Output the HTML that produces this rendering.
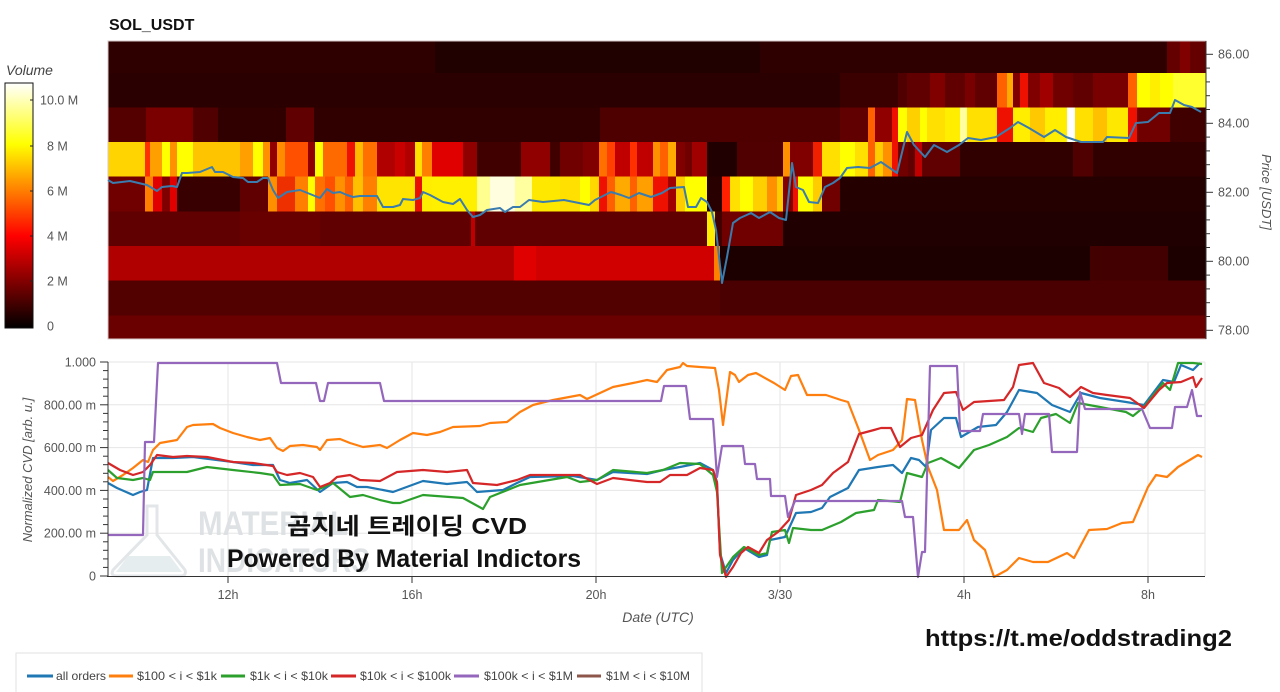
<!DOCTYPE html>
<html><head><meta charset="utf-8"><style>
html,body{margin:0;padding:0;background:#fff;width:1280px;height:692px;overflow:hidden}
svg{display:block}
text{font-family:"Liberation Sans","Noto Sans CJK KR",sans-serif}
</style></head><body>
<svg width="1280" height="692" viewBox="0 0 1280 692" xmlns="http://www.w3.org/2000/svg">
<defs>
<linearGradient id="hot" x1="0" y1="1" x2="0" y2="0">
<stop offset="0" stop-color="#000000"/><stop offset="0.375" stop-color="#ff0000"/><stop offset="0.75" stop-color="#ffff00"/><stop offset="1" stop-color="#ffffff"/>
</linearGradient>
</defs>
<rect width="1280" height="692" fill="#fff"/>
<text x="109" y="30" font-size="16" font-weight="bold" fill="#111">SOL_USDT</text>

<!-- colorbar -->
<text x="6" y="75" font-size="14" font-style="italic" fill="#444">Volume</text>
<rect x="5" y="83" width="28" height="245" fill="url(#hot)" stroke="#111" stroke-width="1"/>
<g stroke="#222" stroke-width="1"><line x1="30" y1="100" x2="33" y2="100"/><line x1="30" y1="146" x2="33" y2="146"/><line x1="30" y1="191" x2="33" y2="191"/><line x1="30" y1="236" x2="33" y2="236"/><line x1="30" y1="281" x2="33" y2="281"/></g>
<g font-size="12.5" fill="#555">
<text x="40" y="104.5">10.0 M</text><text x="47" y="150.5">8 M</text><text x="47" y="195.5">6 M</text><text x="47" y="240.5">4 M</text><text x="47" y="285.5">2 M</text><text x="47" y="330.5">0</text>
</g>

<!-- heatmap -->
<g shape-rendering="crispEdges">
<!-- R0 -->
<rect x="108" y="41" width="1098" height="32" fill="#2e0000"/>
<rect x="435" y="41" width="325" height="32" fill="#210000"/>
<rect x="1167" y="41" width="39" height="32" fill="#640000"/>
<rect x="1180" y="41" width="10" height="32" fill="#800000"/>
<!-- R1 -->
<g transform="translate(0,73)">
<rect x="108" width="1098" height="34.5" fill="#2a0000"/>
<rect x="840" width="58" height="34.5" fill="#3a0000"/>
<rect x="898" width="9" height="34.5" fill="#500000"/>
<rect x="907" width="90" height="34.5" fill="#600000"/>
<rect x="930" width="15" height="34.5" fill="#800000"/>
<rect x="965" width="10" height="34.5" fill="#780000"/>
<rect x="997" width="10" height="34.5" fill="#ff6000"/>
<rect x="1007" width="6" height="34.5" fill="#ffaa00"/>
<rect x="1013" width="7" height="34.5" fill="#800000"/>
<rect x="1020" width="8" height="34.5" fill="#ee1000"/>
<rect x="1028" width="12" height="34.5" fill="#800000"/>
<rect x="1040" width="13" height="34.5" fill="#a00000"/>
<rect x="1053" width="20" height="34.5" fill="#700000"/>
<rect x="1073" width="20" height="34.5" fill="#600000"/>
<rect x="1093" width="35" height="34.5" fill="#780000"/>
<rect x="1128" width="9" height="34.5" fill="#ff6000"/>
<rect x="1137" width="36" height="34.5" fill="#ffff00"/>
<rect x="1150" width="10" height="34.5" fill="#ffee00"/>
<rect x="1173" width="33" height="34.5" fill="#ffff30"/>
</g>
<!-- R2 -->
<g transform="translate(0,107.5)">
<rect x="108" width="1098" height="34.5" fill="#300000"/>
<rect x="108" width="38" height="34.5" fill="#550000"/>
<rect x="146" width="47" height="34.5" fill="#7a0000"/>
<rect x="193" width="25" height="34.5" fill="#500000"/>
<rect x="286" width="28" height="34.5" fill="#600000"/>
<rect x="600" width="240" height="34.5" fill="#4e0000"/>
<rect x="840" width="28" height="34.5" fill="#600000"/>
<rect x="868" width="7" height="34.5" fill="#ff6000"/>
<rect x="875" width="17" height="34.5" fill="#900000"/>
<rect x="892" width="6" height="34.5" fill="#ee1000"/>
<rect x="898" width="9" height="34.5" fill="#ffff00"/>
<rect x="907" width="13" height="34.5" fill="#ffd000"/>
<rect x="920" width="7" height="34.5" fill="#ffff00"/>
<rect x="927" width="18" height="34.5" fill="#ffe000"/>
<rect x="945" width="15" height="34.5" fill="#ffee00"/>
<rect x="960" width="7" height="34.5" fill="#ffffa0"/>
<rect x="967" width="30" height="34.5" fill="#ffe000"/>
<rect x="997" width="16" height="34.5" fill="#ee1000"/>
<rect x="1013" width="17" height="34.5" fill="#ffee00"/>
<rect x="1030" width="15" height="34.5" fill="#ffc800"/>
<rect x="1045" width="22" height="34.5" fill="#ffee00"/>
<rect x="1067" width="8" height="34.5" fill="#ffffff"/>
<rect x="1075" width="18" height="34.5" fill="#ffe000"/>
<rect x="1093" width="14" height="34.5" fill="#ffc000"/>
<rect x="1107" width="21" height="34.5" fill="#ffe800"/>
<rect x="1128" width="9" height="34.5" fill="#ee1000"/>
<rect x="1137" width="33" height="34.5" fill="#700000"/>
<rect x="1170" width="36" height="34.5" fill="#400000"/>
</g>
<!-- R3 -->
<g transform="translate(0,142)">
<rect x="108" width="37" height="34.5" fill="#ffd400"/>
<rect x="145" width="5" height="34.5" fill="#ff3000"/>
<rect x="150" width="12" height="34.5" fill="#ffa000"/>
<rect x="162" width="8" height="34.5" fill="#ffff00"/>
<rect x="170" width="7" height="34.5" fill="#ff9000"/>
<rect x="177" width="16" height="34.5" fill="#ffff00"/>
<rect x="193" width="47" height="34.5" fill="#ffc400"/>
<rect x="240" width="13" height="34.5" fill="#ffa000"/>
<rect x="253" width="10" height="34.5" fill="#ffff00"/>
<rect x="263" width="7" height="34.5" fill="#ff9000"/>
<rect x="270" width="7" height="34.5" fill="#900000"/>
<rect x="277" width="8" height="34.5" fill="#ff8c00"/>
<rect x="285" width="23" height="34.5" fill="#ff5000"/>
<rect x="308" width="7" height="34.5" fill="#900000"/>
<rect x="315" width="8" height="34.5" fill="#ffff00"/>
<rect x="323" width="24" height="34.5" fill="#ff6a00"/>
<rect x="347" width="8" height="34.5" fill="#ee1000"/>
<rect x="355" width="8" height="34.5" fill="#ffbb00"/>
<rect x="363" width="14" height="34.5" fill="#ff7000"/>
<rect x="377" width="38" height="34.5" fill="#b00000"/>
<rect x="395" width="10" height="34.5" fill="#c80000"/>
<rect x="415" width="7" height="34.5" fill="#ffe000"/>
<rect x="422" width="10" height="34.5" fill="#ff8000"/>
<rect x="432" width="31" height="34.5" fill="#e00000"/>
<rect x="463" width="14" height="34.5" fill="#900000"/>
<rect x="477" width="44" height="34.5" fill="#400000"/>
<rect x="521" width="29" height="34.5" fill="#900000"/>
<rect x="550" width="10" height="34.5" fill="#400000"/>
<rect x="560" width="23" height="34.5" fill="#700000"/>
<rect x="583" width="16" height="34.5" fill="#800000"/>
<rect x="599" width="8" height="34.5" fill="#ff7000"/>
<rect x="607" width="8" height="34.5" fill="#ff4000"/>
<rect x="615" width="15" height="34.5" fill="#c00000"/>
<rect x="630" width="7" height="34.5" fill="#ff3000"/>
<rect x="637" width="16" height="34.5" fill="#c00000"/>
<rect x="653" width="7" height="34.5" fill="#ff9000"/>
<rect x="660" width="8" height="34.5" fill="#ff6000"/>
<rect x="668" width="8" height="34.5" fill="#ffaa00"/>
<rect x="676" width="9" height="34.5" fill="#800000"/>
<rect x="685" width="7" height="34.5" fill="#700000"/>
<rect x="692" width="15" height="34.5" fill="#a00000"/>
<rect x="707" width="30" height="34.5" fill="#200000"/>
<rect x="737" width="46" height="34.5" fill="#500000"/>
<rect x="783" width="7" height="34.5" fill="#ff9000"/>
<rect x="790" width="23" height="34.5" fill="#800000"/>
<rect x="813" width="9" height="34.5" fill="#ee2000"/>
<rect x="822" width="46" height="34.5" fill="#ffe000"/>
<rect x="840" width="15" height="34.5" fill="#ffff00"/>
<rect x="868" width="7" height="34.5" fill="#ff6000"/>
<rect x="875" width="8" height="34.5" fill="#ffcc00"/>
<rect x="883" width="9" height="34.5" fill="#ff9000"/>
<rect x="892" width="6" height="34.5" fill="#ee1000"/>
<rect x="898" width="62" height="34.5" fill="#600000"/>
<rect x="898" width="10" height="34.5" fill="#700000"/>
<rect x="915" width="7" height="34.5" fill="#c00000"/>
<rect x="960" width="113" height="34.5" fill="#300000"/>
<rect x="1073" width="20" height="34.5" fill="#500000"/>
<rect x="1093" width="113" height="34.5" fill="#300000"/>
</g>
<!-- R4 -->
<g transform="translate(0,176.5)">
<rect x="108" width="37" height="35" fill="#700000"/>
<rect x="145" width="8" height="35" fill="#ff8000"/>
<rect x="153" width="9" height="35" fill="#e00000"/>
<rect x="162" width="8" height="35" fill="#800000"/>
<rect x="170" width="7" height="35" fill="#e00000"/>
<rect x="177" width="63" height="35" fill="#380000"/>
<rect x="240" width="28" height="35" fill="#600000"/>
<rect x="268" width="9" height="35" fill="#ff9000"/>
<rect x="277" width="18" height="35" fill="#ee3000"/>
<rect x="295" width="13" height="35" fill="#ff8000"/>
<rect x="308" width="7" height="35" fill="#ffff00"/>
<rect x="315" width="10" height="35" fill="#ff7000"/>
<rect x="325" width="10" height="35" fill="#ff5000"/>
<rect x="335" width="10" height="35" fill="#ff9000"/>
<rect x="345" width="8" height="35" fill="#ff6000"/>
<rect x="353" width="10" height="35" fill="#ffc000"/>
<rect x="363" width="14" height="35" fill="#ff8000"/>
<rect x="377" width="38" height="35" fill="#ffe400"/>
<rect x="415" width="7" height="35" fill="#e81000"/>
<rect x="422" width="10" height="35" fill="#ffee00"/>
<rect x="432" width="45" height="35" fill="#fff000"/>
<rect x="477" width="13" height="35" fill="#ffff90"/>
<rect x="490" width="25" height="35" fill="#ffffe0"/>
<rect x="515" width="17" height="35" fill="#ffffa0"/>
<rect x="532" width="28" height="35" fill="#ffe800"/>
<rect x="560" width="20" height="35" fill="#ffe000"/>
<rect x="580" width="10" height="35" fill="#ffff00"/>
<rect x="590" width="9" height="35" fill="#ffd800"/>
<rect x="599" width="8" height="35" fill="#ee1000"/>
<rect x="607" width="8" height="35" fill="#ff6000"/>
<rect x="615" width="15" height="35" fill="#ffaa00"/>
<rect x="630" width="7" height="35" fill="#ff6000"/>
<rect x="637" width="16" height="35" fill="#ffa000"/>
<rect x="653" width="15" height="35" fill="#ee1000"/>
<rect x="668" width="8" height="35" fill="#a00000"/>
<rect x="676" width="9" height="35" fill="#ffcc00"/>
<rect x="685" width="22" height="35" fill="#ffff00"/>
<rect x="707" width="15" height="35" fill="#280000"/>
<rect x="722" width="8" height="35" fill="#ff2000"/>
<rect x="730" width="10" height="35" fill="#ffe000"/>
<rect x="740" width="13" height="35" fill="#ffff00"/>
<rect x="753" width="14" height="35" fill="#ffd000"/>
<rect x="767" width="10" height="35" fill="#ff9000"/>
<rect x="777" width="6" height="35" fill="#ffcc00"/>
<rect x="783" width="10" height="35" fill="#800000"/>
<rect x="793" width="5" height="35" fill="#ee1000"/>
<rect x="798" width="15" height="35" fill="#ffff00"/>
<rect x="813" width="9" height="35" fill="#ffcc00"/>
<rect x="822" width="18" height="35" fill="#700000"/>
<rect x="840" width="366" height="35" fill="#240000"/>
</g>
<!-- R5 -->
<rect x="108" y="211.5" width="599" height="34.5" fill="#600000"/>
<rect x="240" y="211.5" width="80" height="34.5" fill="#680000"/>
<rect x="471" y="211.5" width="4" height="34.5" fill="#c00000"/>
<rect x="707" y="211.5" width="8" height="34.5" fill="#ffee00"/>
<rect x="715" y="211.5" width="7" height="34.5" fill="#400000"/>
<rect x="722" y="211.5" width="61" height="34.5" fill="#700000"/>
<rect x="783" y="211.5" width="423" height="34.5" fill="#200000"/>
<!-- R6 -->
<rect x="108" y="246" width="406" height="34.5" fill="#b00000"/>
<rect x="514" y="246" width="22" height="34.5" fill="#e00000"/>
<rect x="536" y="246" width="178" height="34.5" fill="#d00000"/>
<rect x="714" y="246" width="6" height="34.5" fill="#ff8000"/>
<rect x="720" y="246" width="370" height="34.5" fill="#1c0000"/>
<rect x="1090" y="246" width="78" height="34.5" fill="#420000"/>
<rect x="1168" y="246" width="38" height="34.5" fill="#1c0000"/>
<!-- R7 -->
<rect x="108" y="280.5" width="612" height="35" fill="#520000"/>
<rect x="720" y="280.5" width="486" height="35" fill="#4a0000"/>
<!-- R8 -->
<rect x="108" y="315.5" width="1098" height="23.5" fill="#6a0000"/>
</g>
<rect x="108" y="41" width="1098" height="298" fill="none" stroke="#d8c8c8" stroke-width="1"/>
<polyline fill="none" stroke="#3a7cae" stroke-width="2" stroke-linejoin="round" points="108,180 113,183 130,181 147,185 157,191 162,187 172,186 177,187 182,173 187,173 200,172 212,167 215,172 223,172 233,177 243,178 248,182 257,182 263,178 268,178 273,190 278,198 287,192 300,190 310,194 320,198 327,189 333,193 340,192 347,195 353,197 360,196 377,196 383,207 393,207 400,205 403,199 413,200 420,198 423,192 430,195 443,202 453,204 460,199 467,210 473,217 480,215 487,210 500,208 505,212 513,207 520,207 529,200 543,202 564,200 589,205 595,200 611,192 621,195 629,198 639,193 651,197 662,193 670,188 684,187 688,207 696,207 701,198 707,202 712,212 716,230 722,283 727,257 733,223 740,218 751,213 759,218 770,212 779,218 786,220 792,163 796,187 803,190 809,202 818,203 825,187 833,183 840,178 847,168 858,167 870,168 881,162 897,173 907,132 914,145 925,157 934,145 947,152 959,145 968,138 981,140 996,137 1010,128 1018,122 1029,128 1044,137 1055,130 1066,137 1081,142 1103,142 1107,137 1129,138 1136,123 1148,122 1159,113 1170,113 1175,100 1184,105 1192,107 1201,112"/>

<!-- right price axis -->
<g stroke="#333" stroke-width="1">
<line x1="1206" y1="41" x2="1206" y2="339"/>
<line x1="1206" y1="54.3" x2="1213" y2="54.3"/><line x1="1206" y1="68.1" x2="1210" y2="68.1"/><line x1="1206" y1="81.9" x2="1210" y2="81.9"/><line x1="1206" y1="95.7" x2="1210" y2="95.7"/><line x1="1206" y1="109.5" x2="1210" y2="109.5"/>
<line x1="1206" y1="123.3" x2="1213" y2="123.3"/><line x1="1206" y1="137.1" x2="1210" y2="137.1"/><line x1="1206" y1="150.9" x2="1210" y2="150.9"/><line x1="1206" y1="164.7" x2="1210" y2="164.7"/><line x1="1206" y1="178.5" x2="1210" y2="178.5"/>
<line x1="1206" y1="192.3" x2="1213" y2="192.3"/><line x1="1206" y1="206.1" x2="1210" y2="206.1"/><line x1="1206" y1="219.9" x2="1210" y2="219.9"/><line x1="1206" y1="233.7" x2="1210" y2="233.7"/><line x1="1206" y1="247.5" x2="1210" y2="247.5"/>
<line x1="1206" y1="261.3" x2="1213" y2="261.3"/><line x1="1206" y1="275.1" x2="1210" y2="275.1"/><line x1="1206" y1="288.9" x2="1210" y2="288.9"/><line x1="1206" y1="302.7" x2="1210" y2="302.7"/><line x1="1206" y1="316.5" x2="1210" y2="316.5"/>
<line x1="1206" y1="330.3" x2="1213" y2="330.3"/>
</g>
<g font-size="12.5" fill="#555">
<text x="1218" y="58.5">86.00</text><text x="1218" y="127.5">84.00</text><text x="1218" y="196.5">82.00</text><text x="1218" y="265.5">80.00</text><text x="1218" y="334.5">78.00</text>
</g>
<text transform="translate(1262,192) rotate(90)" text-anchor="middle" font-size="13" font-style="italic" fill="#555">Price [USDT]</text>

<!-- bottom chart grid -->
<g stroke="#e6e6e6" stroke-width="1">
<line x1="108" y1="362" x2="1205" y2="362"/><line x1="108" y1="404.8" x2="1205" y2="404.8"/><line x1="108" y1="447.6" x2="1205" y2="447.6"/><line x1="108" y1="490.4" x2="1205" y2="490.4"/><line x1="108" y1="533.2" x2="1205" y2="533.2"/>
<line x1="228" y1="362" x2="228" y2="576"/><line x1="412" y1="362" x2="412" y2="576"/><line x1="596" y1="362" x2="596" y2="576"/><line x1="780" y1="362" x2="780" y2="576"/><line x1="964" y1="362" x2="964" y2="576"/><line x1="1148" y1="362" x2="1148" y2="576"/>
<line x1="1205" y1="362" x2="1205" y2="576"/>
</g>

<!-- watermark -->
<g opacity="0.9">
<path d="M147,506 L157,506 L157,535 L185,570 Q187,576 180,576 L117,576 Q110,576 113,570 L147,535 Z" fill="none" stroke="#e1e4e6" stroke-width="3"/>
<path d="M128,556 L170,556 L182,572 L116,572 Z" fill="#e3ecee"/>
<text x="198" y="535" font-size="34" font-weight="bold" fill="#dcdfe2" textLength="150" lengthAdjust="spacingAndGlyphs">MATERIAL</text>
<text x="198" y="572" font-size="34" font-weight="bold" fill="#dcdfe2" textLength="172" lengthAdjust="spacingAndGlyphs">INDICATORS</text>
</g>

<!-- series -->
<g fill="none" stroke-width="2.2" stroke-linejoin="round">
<polyline stroke="#1f77b4" points="108,483 117,488 133,495 140,492 147,490 153,458 173,458 193,457 233,462 253,465 273,465 280,480 290,483 307,480 320,492 333,483 347,482 357,487 367,487 383,490 393,492 423,481 447,484 467,482 477,492 503,490 517,483 530,477 573,476 597,480 613,472 647,474 663,470 680,467 700,463 713,470 717,482 720,553 726,573 733,560 744,548 759,557 767,555 770,540 785,537 796,513 811,512 822,508 830,497 848,488 859,470 878,467 893,465 902,473 911,458 919,460 926,467 931,430 944,418 956,418 961,437 978,427 996,425 1007,412 1019,390 1037,393 1052,405 1070,412 1081,393 1100,398 1126,402 1144,405 1163,380 1174,382 1181,365 1193,370 1200,363"/>
<polyline stroke="#ff7f0e" points="108,477 113,481 123,475 133,468 143,460 148,462 153,450 160,443 177,440 187,427 193,425 213,424 220,428 233,433 247,437 260,440 270,438 277,448 283,451 290,446 303,445 317,447 320,450 327,440 340,439 350,443 363,447 380,445 387,448 400,440 413,433 427,435 440,432 453,427 480,426 490,423 507,422 520,412 533,405 553,400 580,395 587,399 600,393 613,387 633,383 647,380 657,382 667,370 680,367 683,363 687,366 700,367 715,368 719,390 723,425 727,395 730,372 735,375 739,382 748,375 756,373 774,383 785,390 791,376 798,375 807,395 826,395 841,400 848,402 859,430 870,460 878,455 893,450 902,440 907,399 915,400 922,440 928,467 937,490 944,530 959,530 967,520 974,540 985,550 994,577 1007,570 1019,558 1033,562 1048,562 1067,553 1074,558 1089,530 1107,529 1122,523 1133,522 1148,487 1156,475 1167,477 1178,467 1193,458 1198,455 1202,457"/>
<polyline stroke="#2ca02c" points="108,470 117,478 133,480 143,478 150,480 153,472 167,472 187,472 207,467 233,470 260,473 273,475 280,485 300,484 317,490 333,483 350,497 363,495 380,500 393,503 400,503 423,495 463,498 483,509 490,497 520,485 567,477 580,482 597,480 613,470 647,473 663,470 680,463 700,464 713,475 717,492 722,573 733,557 744,547 759,555 767,553 772,532 785,530 789,543 793,528 811,530 822,530 841,522 856,513 874,510 878,500 900,502 907,473 922,477 928,463 941,458 959,468 974,450 989,445 1007,437 1019,428 1033,432 1041,418 1056,414 1070,423 1078,403 1100,407 1126,412 1133,416 1144,407 1163,383 1170,390 1178,363 1193,363 1202,364"/>
<polyline stroke="#d62728" points="108,463 120,470 133,475 143,472 150,465 157,455 173,457 187,456 207,457 233,462 253,463 273,466 277,472 287,475 300,473 313,477 320,487 330,483 337,477 350,475 360,480 380,481 397,472 423,470 447,472 467,470 473,483 497,485 517,480 530,475 580,475 597,484 613,478 647,482 660,482 670,475 687,475 700,468 713,470 717,483 720,555 726,577 733,567 741,553 748,547 759,553 767,540 778,532 789,520 796,495 811,490 822,485 833,473 848,462 859,434 874,430 881,428 891,428 900,447 911,438 922,435 933,410 944,393 956,392 963,410 974,402 989,401 1004,400 1013,387 1019,365 1033,363 1044,383 1059,388 1070,397 1081,387 1093,393 1107,395 1130,398 1144,408 1159,390 1167,383 1181,382 1193,377 1196,387 1202,378"/>
<polyline stroke="#9467bd" points="108,535 143,535 145,442 154,442 158,363 277,363 281,383 316,383 320,401 324,401 328,383 380,383 384,401 661,401 664,386 686,386 690,419 713,419 717,477 722,446 743,446 745,464 755,464 757,479 770,479 771,496 785,496 788,517 795,501 902,501 905,517 913,517 918,577 922,552 925,552 930,366 957,366 960,431 980,431 983,414 1019,414 1022,434 1025,414 1049,414 1052,452 1077,452 1080,392 1085,409 1142,409 1150,428 1172,428 1175,407 1187,407 1192,390 1197,416 1202,416"/>
</g>

<!-- overlay texts -->
<text x="287" y="534" font-size="23" font-weight="bold" fill="#111" textLength="240" lengthAdjust="spacingAndGlyphs">곰지네 트레이딩 CVD</text>
<text x="227" y="567" font-size="25" font-weight="bold" fill="#111" textLength="354" lengthAdjust="spacingAndGlyphs">Powered By Material Indictors</text>
<text x="925" y="646" font-size="23" font-weight="bold" fill="#111" textLength="307" lengthAdjust="spacingAndGlyphs">https://t.me/oddstrading2</text>

<!-- bottom axes -->
<g stroke="#333" stroke-width="1">
<line x1="108" y1="362" x2="108" y2="576.5"/>
<line x1="107" y1="576.5" x2="1205" y2="576.5"/>
<line x1="100" y1="362" x2="108" y2="362"/><line x1="103" y1="370.6" x2="108" y2="370.6"/><line x1="103" y1="379.1" x2="108" y2="379.1"/><line x1="103" y1="387.7" x2="108" y2="387.7"/><line x1="103" y1="396.2" x2="108" y2="396.2"/>
<line x1="100" y1="404.8" x2="108" y2="404.8"/><line x1="103" y1="413.4" x2="108" y2="413.4"/><line x1="103" y1="421.9" x2="108" y2="421.9"/><line x1="103" y1="430.5" x2="108" y2="430.5"/><line x1="103" y1="439" x2="108" y2="439"/>
<line x1="100" y1="447.6" x2="108" y2="447.6"/><line x1="103" y1="456.2" x2="108" y2="456.2"/><line x1="103" y1="464.7" x2="108" y2="464.7"/><line x1="103" y1="473.3" x2="108" y2="473.3"/><line x1="103" y1="481.8" x2="108" y2="481.8"/>
<line x1="100" y1="490.4" x2="108" y2="490.4"/><line x1="103" y1="499" x2="108" y2="499"/><line x1="103" y1="507.5" x2="108" y2="507.5"/><line x1="103" y1="516.1" x2="108" y2="516.1"/><line x1="103" y1="524.6" x2="108" y2="524.6"/>
<line x1="100" y1="533.2" x2="108" y2="533.2"/><line x1="103" y1="541.8" x2="108" y2="541.8"/><line x1="103" y1="550.3" x2="108" y2="550.3"/><line x1="103" y1="558.9" x2="108" y2="558.9"/><line x1="103" y1="567.4" x2="108" y2="567.4"/>
<line x1="100" y1="576" x2="108" y2="576"/>
<line x1="228" y1="576" x2="228" y2="583"/><line x1="412" y1="576" x2="412" y2="583"/><line x1="596" y1="576" x2="596" y2="583"/><line x1="780" y1="576" x2="780" y2="583"/><line x1="964" y1="576" x2="964" y2="583"/><line x1="1148" y1="576" x2="1148" y2="583"/>
</g>
<g font-size="12.5" fill="#555" text-anchor="end">
<text x="96" y="366.5">1.000</text><text x="96" y="409.3">800.00 m</text><text x="96" y="452.1">600.00 m</text><text x="96" y="494.9">400.00 m</text><text x="96" y="537.7">200.00 m</text><text x="96" y="580.5">0</text>
</g>
<g font-size="12.5" fill="#555" text-anchor="middle">
<text x="228" y="599">12h</text><text x="412" y="599">16h</text><text x="596" y="599">20h</text><text x="780" y="599">3/30</text><text x="964" y="599">4h</text><text x="1148" y="599">8h</text>
</g>
<text x="658" y="622" text-anchor="middle" font-size="14" font-style="italic" fill="#555">Date (UTC)</text>
<text transform="translate(32,470) rotate(-90)" text-anchor="middle" font-size="13" font-style="italic" fill="#555">Normalized CVD [arb. u.]</text>

<!-- legend -->
<rect x="16" y="653" width="686" height="45" fill="#fff" stroke="#e2e2e2" stroke-width="1"/>
<g stroke-width="3">
<line x1="27" y1="676" x2="53" y2="676" stroke="#1f77b4"/>
<line x1="109" y1="676" x2="133" y2="676" stroke="#ff7f0e"/>
<line x1="221" y1="676" x2="245" y2="676" stroke="#2ca02c"/>
<line x1="331" y1="676" x2="356" y2="676" stroke="#d62728"/>
<line x1="454" y1="676" x2="479" y2="676" stroke="#9467bd"/>
<line x1="577" y1="676" x2="601" y2="676" stroke="#8c564b"/>
</g>
<g font-size="12" fill="#444">
<text x="56" y="680" textLength="50" lengthAdjust="spacingAndGlyphs">all orders</text>
<text x="137" y="680" textLength="80" lengthAdjust="spacingAndGlyphs">$100 &lt; i &lt; $1k</text>
<text x="250" y="680" textLength="78" lengthAdjust="spacingAndGlyphs">$1k &lt; i &lt; $10k</text>
<text x="360" y="680" textLength="91" lengthAdjust="spacingAndGlyphs">$10k &lt; i &lt; $100k</text>
<text x="484" y="680" textLength="89" lengthAdjust="spacingAndGlyphs">$100k &lt; i &lt; $1M</text>
<text x="606" y="680" textLength="84" lengthAdjust="spacingAndGlyphs">$1M &lt; i &lt; $10M</text>
</g>
</svg>
</body></html>
